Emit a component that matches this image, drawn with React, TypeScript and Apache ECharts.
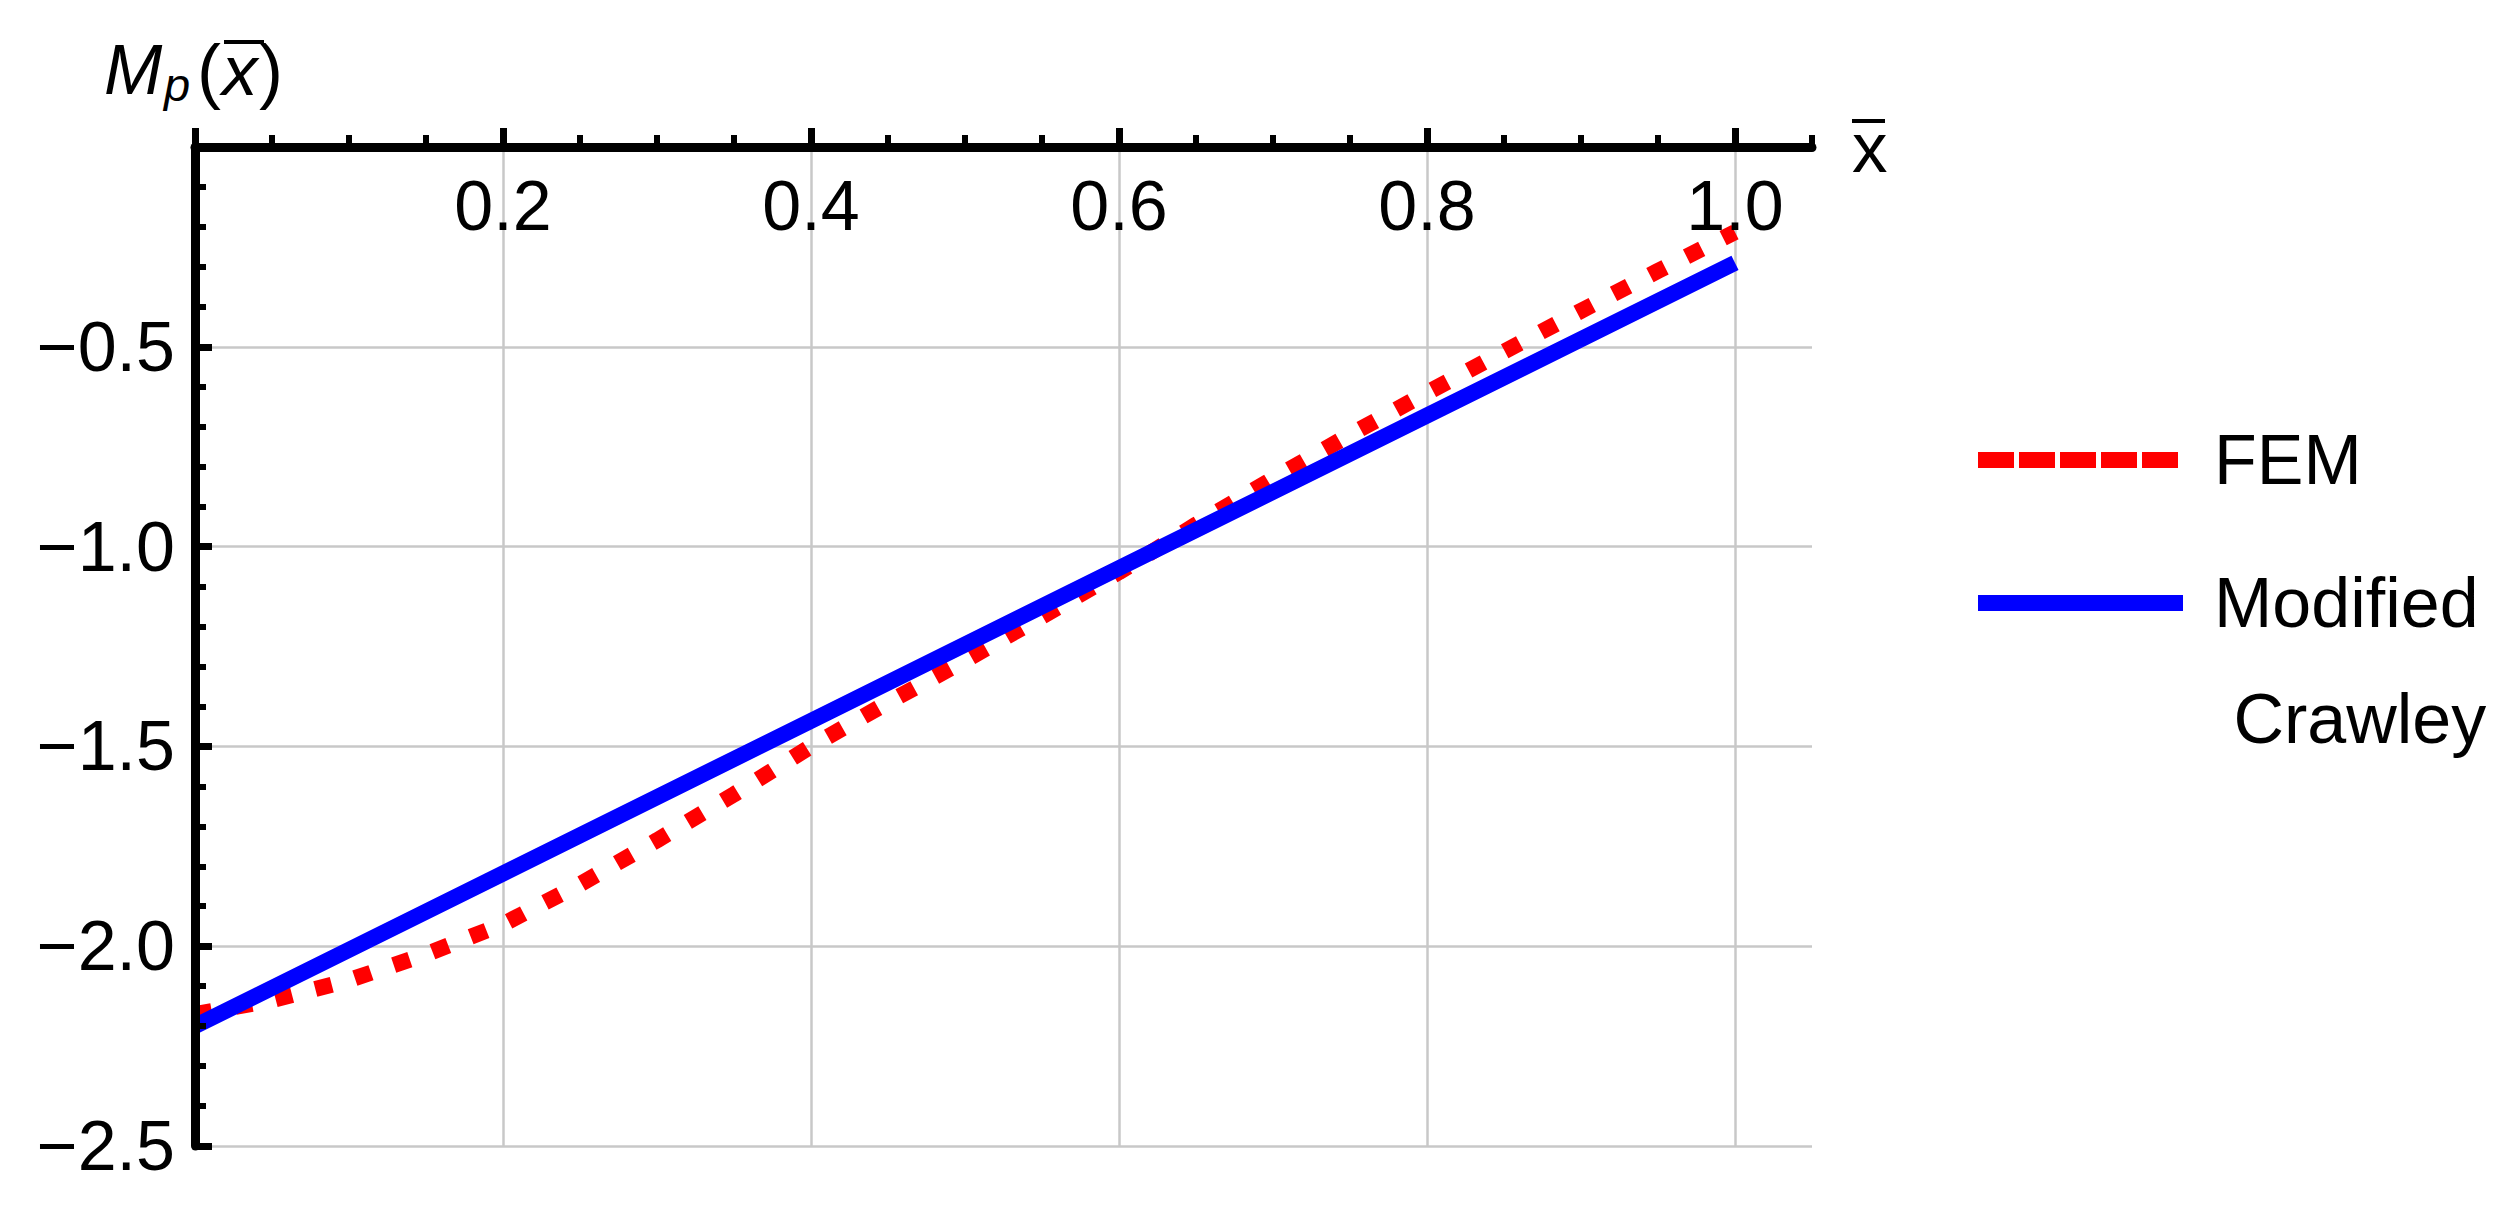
import React, { useEffect, useRef } from 'react';
import * as echarts from 'echarts';

const FONT = '"Liberation Sans", Arial, Helvetica, sans-serif';

// FEM curve
const femX = [0, 0.05, 0.1, 0.15, 0.2, 0.25, 0.3, 0.35, 0.4, 0.45, 0.5, 0.55, 0.6, 0.65, 0.7, 0.75, 0.8, 0.85, 0.9, 0.95, 1.0];
const femY = [-2.17, -2.135, -2.085, -2.02, -1.945, -1.845, -1.735, -1.62, -1.5, -1.39, -1.285, -1.175, -1.064, -0.945, -0.83, -0.72, -0.615, -0.512, -0.41, -0.31, -0.213];

// Modified Crawley curve
const mcX = [0, 0.2, 0.4, 0.6, 0.8, 1.0];
const mcY = [-2.2, -1.818, -1.436, -1.054, -0.672, -0.29];

const seriesNames = ['FEM', 'Modified Crawley'];
const xMajorTicks = [0, 0.2, 0.4, 0.6, 0.8, 1.0];
const xTickLabels = [0.2, 0.4, 0.6, 0.8, 1.0];
const yTickLabels = [-2.5, -2.0, -1.5, -1.0, -0.5];

const fmtX = (v: number) => (Math.abs(v) < 1e-9 ? '' : v.toFixed(1));
const fmtY = (v: number) => (Math.abs(v) < 1e-9 ? '' : (v < 0 ? '\u2212' : '') + Math.abs(v).toFixed(1));

export default function App() {
  const ref = useRef<HTMLDivElement>(null);
  useEffect(() => {
    if (!ref.current) return;
    const chart = echarts.init(ref.current, undefined, { renderer: 'svg' });
    const axisLabelStyle = { fontSize: 70, color: '#000', fontFamily: FONT };
    const option: any = {
      animation: false,
      backgroundColor: '#ffffff',
      textStyle: { fontFamily: FONT },
      grid: { left: 195, top: 147, width: 1617, height: 999, containLabel: false },
      xAxis: [
        {
          type: 'value', position: 'top', min: 0, max: 1.05, interval: 0.2, z: 5,
          axisLine: { show: true, onZero: false, lineStyle: { color: '#000', width: 9 } },
          axisTick: { show: true, inside: false, length: 19, customValues: xMajorTicks, lineStyle: { color: '#000', width: 7 } },
          axisLabel: { show: true, inside: true, margin: 24, customValues: xTickLabels, formatter: fmtX, ...axisLabelStyle },
          splitLine: { show: false },
          name: 'x', nameLocation: 'end', nameGap: 40,
          nameTextStyle: { fontSize: 71, color: '#000', fontFamily: FONT, padding: [12, 0, 0, 0] },
        },
        {
          type: 'value', position: 'top', min: 0, max: 1.05, interval: 0.05, z: 5,
          axisLine: { show: false, onZero: false },
          axisTick: { show: true, inside: false, length: 12, lineStyle: { color: '#000', width: 6 } },
          axisLabel: { show: false },
          splitLine: { show: false },
        },
        {
          type: 'value', position: 'top', min: 0, max: 1.05, interval: 0.2, z: 0,
          axisLine: { show: false, onZero: false },
          axisTick: { show: false },
          axisLabel: { show: false },
          splitLine: { show: true, showMinLine: false, showMaxLine: false, lineStyle: { color: '#c8c8c8', width: 2.5 } },
        },
      ],
      yAxis: [
        {
          type: 'value', min: -2.5, max: 0, interval: 0.5, z: 5,
          axisLine: { show: true, onZero: false, lineStyle: { color: '#000', width: 9 } },
          axisTick: { show: true, inside: true, length: 17, lineStyle: { color: '#000', width: 7 } },
          minorTick: { show: true, splitNumber: 5, length: 11, lineStyle: { color: '#000', width: 6 } },
          axisLabel: { show: true, margin: 20, customValues: yTickLabels, formatter: fmtY, ...axisLabelStyle },
          splitLine: { show: false },
        },
        {
          type: 'value', min: -2.5, max: 0, interval: 0.5, z: 0, position: 'left',
          axisLine: { show: false, onZero: false },
          axisTick: { show: false },
          axisLabel: { show: false },
          splitLine: { show: true, showMaxLine: false, lineStyle: { color: '#c8c8c8', width: 2.5 } },
        },
      ],
      legend: [
        {
          data: [{ name: seriesNames[0], lineStyle: { type: [36, 5], width: 16, color: '#ff0000', cap: 'butt' } }],
          left: 1970, top: 413, orient: 'vertical', padding: 0, selectedMode: false,
          itemWidth: 205, itemHeight: 16,
          lineStyle: { width: 16 },
          textStyle: { fontSize: 70, color: '#000', fontFamily: FONT, lineHeight: 80, padding: [0, 0, 14, 26] },
        },
        {
          data: [{ name: seriesNames[1], lineStyle: { type: 'solid', width: 16, color: '#0000ff', cap: 'butt' } }],
          left: 1970, top: 429, orient: 'vertical', padding: 0, selectedMode: false,
          itemWidth: 205, itemHeight: 16,
          lineStyle: { width: 16 },
          formatter: () => '\u00a0\nModified\n\u00a0Crawley',
          textStyle: { fontSize: 70, color: '#000', fontFamily: FONT, lineHeight: 116, padding: [0, 0, 0, 26] },
        },
      ],
      graphic: [
        { type: 'text', x: 104, y: 70, z: 10, style: { text: 'M', fontSize: 70, fontStyle: 'italic', fontFamily: FONT, fill: '#000', verticalAlign: 'middle', align: 'left' } },
        { type: 'text', x: 164, y: 84, z: 10, style: { text: 'p', fontSize: 47, fontStyle: 'italic', fontFamily: FONT, fill: '#000', verticalAlign: 'middle', align: 'left' } },
        { type: 'text', x: 197, y: 70, z: 10, style: { text: '(', fontSize: 72, fontFamily: FONT, fill: '#000', verticalAlign: 'middle', align: 'left' } },
        { type: 'text', x: 222, y: 70, z: 10, style: { text: 'x', fontSize: 71, fontStyle: 'italic', fontFamily: FONT, fill: '#000', verticalAlign: 'middle', align: 'left' } },
        { type: 'text', x: 259, y: 70, z: 10, style: { text: ')', fontSize: 72, fontFamily: FONT, fill: '#000', verticalAlign: 'middle', align: 'left' } },
        { type: 'line', z: 10, shape: { x1: 224, y1: 42, x2: 264, y2: 42 }, style: { stroke: '#000', lineWidth: 4 } },
        { type: 'line', z: 10, shape: { x1: 1852, y1: 121, x2: 1885, y2: 121 }, style: { stroke: '#000', lineWidth: 4 } },
      ],
      series: [
        {
          name: seriesNames[0], type: 'line', xAxisIndex: 0, yAxisIndex: 0, symbol: 'none', showSymbol: false, z: 2,
          data: femX.map((x, i) => [x, femY[i]]),
          lineStyle: { color: '#ff0000', width: 16, type: [17, 24], cap: 'butt' },
          itemStyle: { color: '#ff0000' },
        },
        {
          name: seriesNames[1], type: 'line', xAxisIndex: 0, yAxisIndex: 0, symbol: 'none', showSymbol: false, z: 3,
          data: mcX.map((x, i) => [x, mcY[i]]),
          lineStyle: { color: '#0000ff', width: 16, type: 'solid', cap: 'butt' },
          itemStyle: { color: '#0000ff' },
        },
      ],
    };
    chart.setOption(option);
    return () => chart.dispose();
  }, []);
  return <div ref={ref} style={{ position: 'absolute', left: 0, top: 0, width: 2514, height: 1214, background: '#fff' }} />;
}
